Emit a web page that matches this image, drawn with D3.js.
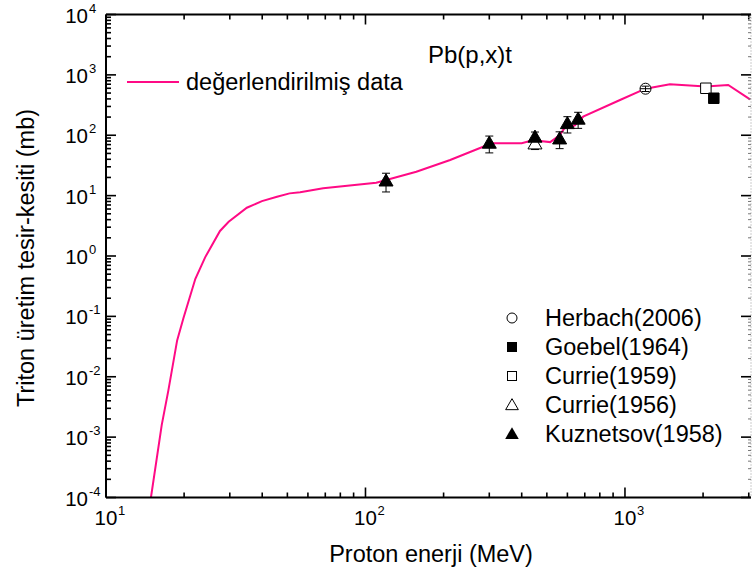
<!DOCTYPE html>
<html>
<head>
<meta charset="utf-8">
<script src="https://cdn.jsdelivr.net/npm/d3@7"></script>
<style>
  body { margin: 0; background: #fff; }
  svg { display: block; font-family: "Liberation Sans", Arial, sans-serif; }
</style>
</head>
<body>
<svg id="chart" width="753" height="576"></svg>
<script>
// ---- data ----
const curveE = [14.9, 16.4, 17.4, 18.8, 19.9, 22.1, 24.1, 27.5, 29.7, 34.9, 39.9, 45.6, 51, 56, 68.7, 110, 157, 212, 284, 311, 400, 430, 470, 515, 560, 587, 640, 690, 957, 1200, 1490, 2050, 2500, 3034];
const curveS = [1e-4, 1.6e-3, 6.0e-3, 0.040, 0.095, 0.42, 0.95, 2.6, 3.7, 6.3, 8.1, 9.6, 10.9, 11.4, 13.2, 16.4, 24.9, 38.9, 64.6, 73.6, 74, 80, 80, 77, 100, 135, 145, 203, 384, 590, 698, 640, 680, 393];

const herbachE = [1200], herbachS = [590], herbachErr = [60];
const goebelE = [2200], goebelS = [410];
const currie59E = [2050], currie59S = [600];
const currie56E = [450], currie56S = [72], currie56Err = [14];
const kuzE = [120, 300, 450, 560, 600, 660];
const kuzS = [17.5, 74, 93, 87, 156, 185];
const kuzErr = [6, 23, 20, 27, 47, 55];

const xMajor = [10, 100, 1000];
const yMajor = [1e-4, 1e-3, 1e-2, 1e-1, 1, 10, 100, 1000, 10000];
const xLabelExp = ["1", "2", "3"];
const yLabelExp = ["-4", "-3", "-2", "-1", "0", "1", "2", "3", "4"];

const legendLineLabel = "değerlendirilmiş data";
const titleText = "Pb(p,x)t";
const legendNames = ["Herbach(2006)", "Goebel(1964)", "Currie(1959)", "Currie(1956)", "Kuznetsov(1958)"];
const xTitle = "Proton enerji (MeV)";
const yTitle = "Triton üretim tesir-kesiti (mb)";

// ---- layout ----
const L = 106, R = 751, T = 14.5, B = 497.5;
const pink = "#ff0a85";
const svg = d3.select("#chart");
const x = d3.scaleLog().domain([10, 3060]).range([L, R]);
const y = d3.scaleLog().domain([1e-4, 1e4]).range([B, T]);

// minor tick values
const xMinor = [];
for (let d = 10; d <= 1000; d *= 10) for (let k = 2; k <= 9; k++) if (d * k <= 3060) xMinor.push(d * k);
const yMinor = [];
for (let d = 1e-4; d < 1e4; d *= 10) for (let k = 2; k <= 9; k++) yMinor.push(d * k);

svg.append("clipPath").attr("id", "clip").append("rect")
  .attr("x", L).attr("y", T).attr("width", R - L).attr("height", B - T);

// curve
const line = d3.line().x(d => x(d[0])).y(d => y(d[1]));
svg.append("path")
  .datum(curveE.map((e, i) => [e, curveS[i]]))
  .attr("clip-path", "url(#clip)")
  .attr("d", line).attr("fill", "none").attr("stroke", pink).attr("stroke-width", 2);

// axes
const ax = svg.append("g").attr("stroke", "#000");
// bottom
ax.append("line").attr("x1", L).attr("x2", R).attr("y1", B).attr("y2", B).attr("stroke-width", 2);
ax.selectAll(".bmaj").data(xMajor).join("line").attr("x1", d => x(d)).attr("x2", d => x(d)).attr("y1", B).attr("y2", B - 10).attr("stroke-width", 1.6);
ax.selectAll(".bmin").data(xMinor).join("line").attr("x1", d => x(d)).attr("x2", d => x(d)).attr("y1", B).attr("y2", B - 5).attr("stroke-width", 1.6);
// top
ax.append("line").attr("x1", L).attr("x2", R).attr("y1", T).attr("y2", T).attr("stroke-width", 2);
ax.selectAll(".tmaj").data(xMajor).join("line").attr("x1", d => x(d)).attr("x2", d => x(d)).attr("y1", T).attr("y2", T + 10).attr("stroke-width", 1.6);
ax.selectAll(".tmin").data(xMinor).join("line").attr("x1", d => x(d)).attr("x2", d => x(d)).attr("y1", T).attr("y2", T + 5).attr("stroke-width", 1.6);
// left
ax.append("line").attr("x1", L).attr("x2", L).attr("y1", T).attr("y2", B).attr("stroke-width", 2);
ax.selectAll(".lmaj").data(yMajor).join("line").attr("x1", L).attr("x2", L + 10).attr("y1", d => y(d)).attr("y2", d => y(d)).attr("stroke-width", 1.6);
ax.selectAll(".lmin").data(yMinor).join("line").attr("x1", L).attr("x2", L + 5).attr("y1", d => y(d)).attr("y2", d => y(d)).attr("stroke-width", 1.6);
// right (at image edge)
ax.append("line").attr("x1", R).attr("x2", R).attr("y1", T).attr("y2", B).attr("stroke", "#999").attr("stroke-width", 1).attr("stroke-dasharray", "1,2");
ax.selectAll(".rmaj").data(yMajor).join("line").attr("x1", R).attr("x2", R - 10).attr("y1", d => y(d)).attr("y2", d => y(d)).attr("stroke-width", 1.6);
ax.selectAll(".rmin").data(yMinor).join("line").attr("x1", R).attr("x2", R - 3).attr("y1", d => y(d)).attr("y2", d => y(d)).attr("stroke", "#777").attr("stroke-width", 1);

// tick labels
const tl = svg.append("g").attr("fill", "#000");
xMajor.forEach((v, i) => {
  tl.append("text").attr("x", x(v)).attr("y", 525).attr("text-anchor", "middle").attr("font-size", 20.5).text("10");
  tl.append("text").attr("x", x(v) + 12).attr("y", 515).attr("font-size", 13).text(xLabelExp[i]);
});
yMajor.forEach((v, i) => {
  tl.append("text").attr("x", 88).attr("y", y(v) + 8).attr("text-anchor", "end").attr("font-size", 20.5).text("10");
  tl.append("text").attr("x", 89).attr("y", y(v) - 2).attr("font-size", 13).text(yLabelExp[i]);
});

// axis titles
svg.append("text").attr("x", 431).attr("y", 562).attr("text-anchor", "middle").attr("font-size", 23.5).text(xTitle);
svg.append("text").attr("transform", "translate(34,258) rotate(-90)").attr("text-anchor", "middle").attr("font-size", 23.5).text(yTitle);

// title & line legend
svg.append("text").attr("x", 428).attr("y", 63).attr("font-size", 24).text(titleText);
svg.append("line").attr("x1", 127).attr("x2", 179).attr("y1", 82).attr("y2", 82).attr("stroke", pink).attr("stroke-width", 2);
svg.append("text").attr("x", 186).attr("y", 90).attr("font-size", 23.5).text(legendLineLabel);

// error bars
function errBars(E, S, Er) {
  const g = svg.append("g").attr("stroke", "#000").attr("stroke-width", 1);
  E.forEach((e, i) => {
    const cx = x(e), y1 = y(S[i] + Er[i]), y2 = y(S[i] - Er[i]);
    g.append("line").attr("x1", cx).attr("x2", cx).attr("y1", y1).attr("y2", y2);
    g.append("line").attr("x1", cx - 4).attr("x2", cx + 4).attr("y1", y1).attr("y2", y1);
    g.append("line").attr("x1", cx - 4).attr("x2", cx + 4).attr("y1", y2).attr("y2", y2);
  });
}
errBars(kuzE, kuzS, kuzErr);
errBars(currie56E, currie56S, currie56Err);

// markers
const triUp = d3.symbol().type(d3.symbolTriangle).size(85);
const sq = d3.symbol().type(d3.symbolSquare).size(110);
function marks(E, S, gen, fill) {
  svg.append("g").selectAll("path").data(E).join("path")
    .attr("transform", (e, i) => `translate(${x(e)},${y(S[i]) + (gen === triUp ? 1 : 0)})`)
    .attr("d", gen).attr("fill", fill).attr("stroke", "#000").attr("stroke-width", 1);
}
marks(currie56E, currie56S, triUp, "#fff");
marks(kuzE, kuzS, triUp, "#000");
marks(currie59E, currie59S, sq, "#fff");
marks(goebelE, goebelS, sq, "#000");
// Herbach circle with small error bar inside
herbachE.forEach((e, i) => {
  const cx = x(e), cy = y(herbachS[i]);
  svg.append("circle").attr("cx", cx).attr("cy", cy).attr("r", 5.5).attr("fill", "#fff").attr("stroke", "#000");
  errBars([e], [herbachS[i]], [herbachErr[i]]);
  svg.append("line").attr("x1", cx - 5.5).attr("x2", cx + 5.5).attr("y1", cy).attr("y2", cy).attr("stroke", "#000");
});

// bottom-right legend
const legY = [318, 347, 376, 405, 434];
const lg = svg.append("g");
const lx = 512;
lg.append("circle").attr("cx", lx).attr("cy", legY[0]).attr("r", 5).attr("fill", "#fff").attr("stroke", "#000");
lg.append("rect").attr("x", lx - 5).attr("y", legY[1] - 5).attr("width", 10).attr("height", 10).attr("fill", "#000");
lg.append("rect").attr("x", lx - 4.5).attr("y", legY[2] - 4.5).attr("width", 9).attr("height", 9).attr("fill", "#fff").attr("stroke", "#000");
lg.append("path").attr("transform", `translate(${lx},${legY[3] + 1})`).attr("d", d3.symbol().type(d3.symbolTriangle).size(70)).attr("fill", "#fff").attr("stroke", "#000");
lg.append("path").attr("transform", `translate(${lx},${legY[4] + 1})`).attr("d", d3.symbol().type(d3.symbolTriangle).size(80)).attr("fill", "#000");
legendNames.forEach((n, i) => {
  lg.append("text").attr("x", 545).attr("y", legY[i] + 8).attr("font-size", 23.5).text(n);
});
</script>
</body>
</html>
